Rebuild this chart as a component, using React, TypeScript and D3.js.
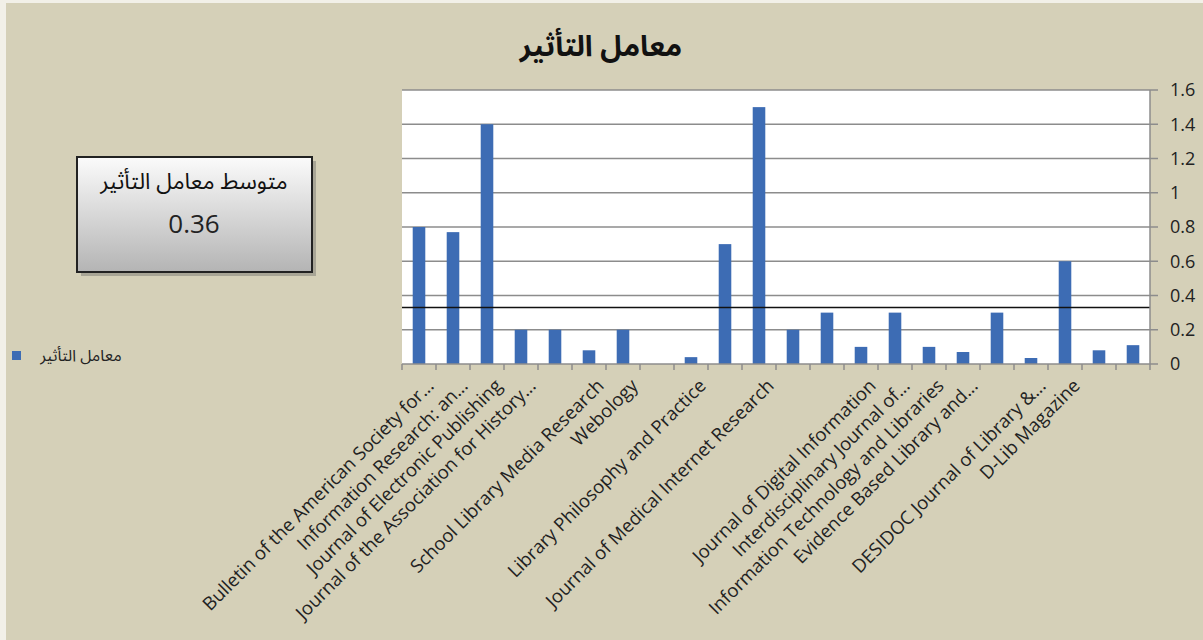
import { useMemo } from "react";
import { scaleBand, scaleLinear, range as d3range } from "d3";

const WIDTH = 1203;
const HEIGHT = 640;
const PLOT = { left: 402, right: 1150, top: 90, bottom: 364 };

// category names (blank where the picture shows no label)
const journals = [
  "Bulletin of the American Society for...",
  "Information Research: an...",
  "Journal of Electronic Publishing",
  "Journal of the Association for History...",
  "",
  "School Library Media Research",
  "Webology",
  "",
  "Library Philosophy and Practice",
  "",
  "Journal of Medical Internet Research",
  "",
  "",
  "Journal of Digital Information",
  "Interdisciplinary Journal of...",
  "Information Technology and Libraries",
  "Evidence Based Library and...",
  "",
  "DESIDOC Journal of Library &...",
  "D-Lib Magazine",
  "",
  "",
];

const impactFactor = [
  0.8, 0.77, 1.4, 0.2, 0.2, 0.08, 0.2, 0, 0.04, 0.7, 1.5,
  0.2, 0.3, 0.1, 0.3, 0.1, 0.07, 0.3, 0.035, 0.6, 0.08, 0.11,
];

const yTicks = [0, 0.2, 0.4, 0.6, 0.8, 1, 1.2, 1.4, 1.6];
const avgLineValue = 0.33;
const avgLabel = "0.36";

const TITLE = "معامل التأثير";
const BOX_TITLE = "متوسط معامل التأثير";
const LEGEND = "معامل التأثير";

const BAR = "#3d6cb4";
const BG = "#d5d0b8";
const GRID = "#8c8c8c";
const LATIN = "'Open Sans', Lato, sans-serif";
const ARABIC = "'Noto Sans Arabic', 'DejaVu Sans', sans-serif";

export default function App() {
  const idx = d3range(journals.length);
  const x = useMemo(
    () =>
      scaleBand<number>()
        .domain(idx)
        .range([PLOT.left, PLOT.right])
        .paddingInner(0.63)
        .paddingOuter(0.315),
    []
  );
  const y = scaleLinear().domain([0, 1.6]).range([PLOT.bottom, PLOT.top]);
  const step = x.step();
  const cx = (i: number) => (x(i) ?? 0) + x.bandwidth() / 2;

  return (
    <div style={{ position: "absolute", left: 0, top: 0 }}>
      <svg width={WIDTH} height={HEIGHT} viewBox={`0 0 ${WIDTH} ${HEIGHT}`}>
        <defs>
          <linearGradient id="boxGrad" x1="0" y1="0" x2="0" y2="1">
            <stop offset="0%" stopColor="#fbfbfb" />
            <stop offset="100%" stopColor="#b4b4b4" />
          </linearGradient>
        </defs>
        <rect x={0} y={0} width={WIDTH} height={HEIGHT} fill="#f2f0e8" />
        <rect x={6} y={3} width={WIDTH - 6} height={HEIGHT - 3} fill={BG} />

        <text x={601} y={56} textAnchor="middle" fontFamily={ARABIC} fontWeight="bold" fontSize={29} fill="#111">
          {TITLE}
        </text>

        {/* plot area */}
        <rect x={PLOT.left} y={PLOT.top} width={PLOT.right - PLOT.left} height={PLOT.bottom - PLOT.top} fill="#fff" />

        {yTicks.map((t) => (
          <g key={t}>
            {t > 0 && (
              <line x1={PLOT.left} x2={PLOT.right} y1={y(t)} y2={y(t)} stroke={GRID} strokeWidth={1.5} />
            )}
            <line x1={PLOT.right} x2={PLOT.right + 8} y1={y(t)} y2={y(t)} stroke={GRID} strokeWidth={1.5} />
            <text x={PLOT.right + 20} y={y(t)} dy="0.35em" fontFamily={LATIN} fontSize={18} fill="#222">
              {t}
            </text>
          </g>
        ))}

        {impactFactor.map((v, i) => (
          <rect key={i} x={x(i)} y={y(v)} width={x.bandwidth()} height={PLOT.bottom - y(v)} fill={BAR} />
        ))}

        <line x1={PLOT.left} x2={PLOT.right} y1={y(avgLineValue)} y2={y(avgLineValue)} stroke="#111" strokeWidth={1.5} />

        {/* axes */}
        <line x1={PLOT.right} x2={PLOT.right} y1={PLOT.top} y2={PLOT.bottom} stroke={GRID} strokeWidth={1.5} />
        <line x1={PLOT.left} x2={PLOT.right} y1={PLOT.bottom} y2={PLOT.bottom} stroke={GRID} strokeWidth={1.5} />
        {d3range(journals.length + 1).map((k) => (
          <line
            key={k}
            x1={PLOT.left + k * step}
            x2={PLOT.left + k * step}
            y1={PLOT.bottom}
            y2={PLOT.bottom + 6}
            stroke={GRID}
            strokeWidth={1.5}
          />
        ))}

        {journals.map((name, i) =>
          name ? (
            <text
              key={i}
              transform={`translate(${cx(i) + 16},${PLOT.bottom + 23}) rotate(-45)`}
              textAnchor="end"
              fontFamily={LATIN}
              fontSize={18.5}
              fill="#222"
            >
              {name}
            </text>
          ) : null
        )}

        {/* average box */}
        <rect x={81} y={161} width={235} height={115} fill="#555" opacity={0.35} />
        <rect x={77} y={157} width={235} height={115} fill="url(#boxGrad)" stroke="#222" strokeWidth={2} />
        <text x={194} y={189} textAnchor="middle" fontFamily={ARABIC} fontSize={22.5} fill="#111">
          {BOX_TITLE}
        </text>
        <text x={194} y={233} textAnchor="middle" fontFamily={LATIN} fontSize={26} fill="#222">
          {avgLabel}
        </text>

        {/* legend */}
        <rect x={12} y={351} width={9} height={9} fill={BAR} />
        <text x={81} y={361} textAnchor="middle" fontFamily={ARABIC} fontSize={16} fill="#222">
          {LEGEND}
        </text>
      </svg>
    </div>
  );
}
